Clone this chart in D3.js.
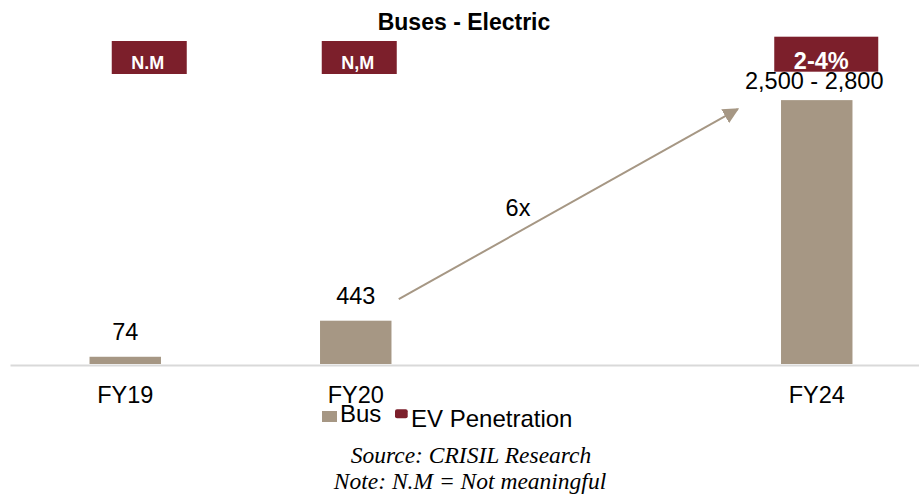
<!DOCTYPE html>
<html>
<head>
<meta charset="utf-8">
<script src="https://cdn.jsdelivr.net/npm/d3@7"></script>
<style>
  body { margin: 0; background: #fff; }
  text { font-family: "Liberation Sans", Arial, sans-serif; }
</style>
</head>
<body>
<div id="chart"></div>
<script>
// data
var categories = ["FY19", "FY20", "FY24"];
var slots = ["FY19", "FY20", "", "FY24"];      // FY24 sits two steps after FY20
var busValues = [74, 443, 2700];
var barLabels = ["74", "443", "2,500 - 2,800"];
var penetration = ["N.M", "N,M", "2-4%"];
var growthLabel = "6x";

var width = 919, height = 494;
var barColor = "#a69784", maroon = "#7c1f2b";

var svg = d3.select("#chart")
  .append("svg")
    .attr("width", width)
    .attr("height", height);

// scales
var x = d3.scaleBand()
  .domain(slots)
  .range([10, 932])
  .paddingInner(0.69)
  .paddingOuter(0.345);

var y = d3.scaleLinear()
  .domain([0, 3000])
  .range([364, 70.8]);

// title
svg.append("text")
  .attr("x", 464).attr("y", 30)
  .attr("text-anchor", "middle")
  .style("font-size", "23px").style("font-weight", "bold")
  .text("Buses - Electric");

// x axis
var xAxis = svg.append("g")
  .attr("transform", "translate(0,365)")
  .call(d3.axisBottom(x).tickValues(categories).tickSize(0).tickPadding(21));
xAxis.select(".domain").attr("stroke", "#d9d9d9").attr("stroke-width", 2);
xAxis.selectAll("text")
  .attr("fill", "#000")
  .style("font-size", "23.5px")
  .style("font-family", "'Liberation Sans', Arial, sans-serif");

// bars
svg.selectAll(".bar")
  .data(categories)
  .enter().append("rect")
    .attr("class", "bar")
    .attr("x", function(d) { return x(d); })
    .attr("width", x.bandwidth())
    .attr("y", function(d, i) { return y(busValues[i]); })
    .attr("height", function(d, i) { return y(0) - y(busValues[i]); })
    .attr("fill", barColor);

// value labels
var labelGap = [16.5, 16.5, 11.5];
svg.selectAll(".vlabel")
  .data(categories)
  .enter().append("text")
    .attr("class", "vlabel")
    .attr("x", function(d) { return x(d) + x.bandwidth() / 2 - (d == "FY24" ? 2.5 : 0); })
    .attr("y", function(d, i) { return y(busValues[i]) - labelGap[i]; })
    .attr("text-anchor", "middle")
    .style("font-size", "23.5px")
    .text(function(d, i) { return barLabels[i]; });

// EV penetration boxes
var boxW = [75, 75, 104], boxH = [33, 33, 35], boxTop = [41, 41, 36.7];
var boxShift = [24, 3.5, 9.5], boxFont = [18, 18, 23.5];
var boxes = svg.selectAll(".pen")
  .data(categories)
  .enter().append("g")
    .attr("class", "pen");
boxes.append("rect")
  .attr("x", function(d, i) { return x(d) + x.bandwidth() / 2 + boxShift[i] - boxW[i] / 2; })
  .attr("y", function(d, i) { return boxTop[i]; })
  .attr("width", function(d, i) { return boxW[i]; })
  .attr("height", function(d, i) { return boxH[i]; })
  .attr("fill", maroon);
boxes.append("text")
  .attr("x", function(d, i) { return x(d) + x.bandwidth() / 2 + boxShift[i] - (i == 2 ? 5 : 1.5); })
  .attr("y", 69.2)
  .attr("text-anchor", "middle")
  .attr("fill", "#fff")
  .style("font-weight", "bold")
  .style("font-size", function(d, i) { return boxFont[i] + "px"; })
  .text(function(d, i) { return penetration[i]; });

// growth arrow from FY20 to FY24
svg.append("defs").append("marker")
  .attr("id", "head")
  .attr("viewBox", "0 0 10 10")
  .attr("refX", 9).attr("refY", 5)
  .attr("markerWidth", 8).attr("markerHeight", 8)
  .attr("markerUnits", "strokeWidth")
  .attr("orient", "auto")
  .append("path")
    .attr("d", "M0,0 L10,5 L0,10 z")
    .attr("fill", barColor);

var x20 = x("FY20") + x.bandwidth() / 2, x24 = x("FY24") + x.bandwidth() / 2;
svg.append("line")
  .attr("x1", x20 + 43).attr("y1", y(busValues[1]) - 21.5)
  .attr("x2", x24 - 79).attr("y2", y(busValues[2]) + 9)
  .attr("stroke", barColor)
  .attr("stroke-width", 2)
  .attr("marker-end", "url(#head)");

svg.append("text")
  .attr("x", 518).attr("y", 215.5)
  .attr("text-anchor", "middle")
  .style("font-size", "23.5px")
  .text(growthLabel);

// legend
var legend = svg.append("g");
legend.append("rect")
  .attr("x", 322).attr("y", 411).attr("width", 15).attr("height", 11)
  .attr("fill", barColor);
legend.append("text")
  .attr("x", 340).attr("y", 422.3)
  .style("font-size", "24px")
  .text("Bus");
legend.append("rect")
  .attr("x", 395).attr("y", 409.3).attr("width", 12.7).attr("height", 9)
  .attr("rx", 2)
  .attr("fill", maroon);
legend.append("text")
  .attr("x", 411).attr("y", 427.3)
  .style("font-size", "24px")
  .text("EV Penetration");

// footnotes
svg.append("text")
  .attr("x", 471).attr("y", 462.7)
  .attr("text-anchor", "middle")
  .style("font-family", "'Liberation Serif', 'Times New Roman', serif")
  .style("font-style", "italic")
  .style("font-size", "23.5px")
  .text("Source: CRISIL Research");
svg.append("text")
  .attr("x", 470).attr("y", 489)
  .attr("text-anchor", "middle")
  .style("font-family", "'Liberation Serif', 'Times New Roman', serif")
  .style("font-style", "italic")
  .style("font-size", "23.5px")
  .text("Note: N.M = Not meaningful");
</script>
</body>
</html>
